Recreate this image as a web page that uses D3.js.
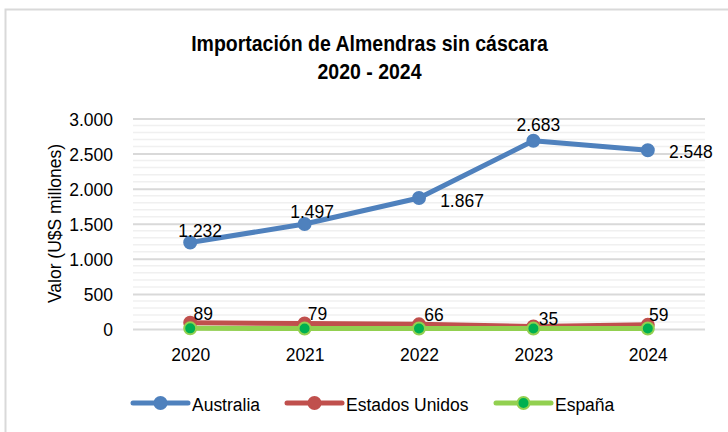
<!DOCTYPE html>
<html>
<head>
<meta charset="utf-8">
<script src="https://cdn.jsdelivr.net/npm/d3@7"></script>
<style>
  body { margin: 0; background: #fff; }
  svg { display: block; font-family: "Liberation Sans", Arial, sans-serif; }
  .tick-label { font-size: 17.5px; fill: #000; }
</style>
</head>
<body>
<div id="chart"></div>
<script>
// data
const years = ['2020', '2021', '2022', '2023', '2024'];
const seriesNames = ['Australia', 'Estados Unidos', 'España'];
const australia = [1232, 1497, 1867, 2683, 2548];
const estadosUnidos = [89, 79, 66, 35, 59];
const espana = [9, 8, 8, 6, 7];
const yTicks = [0, 500, 1000, 1500, 2000, 2500, 3000];

const width = 728, height = 432;
const margin = {top: 118.5, right: 23, bottom: 103, left: 133};
const SY = 1.1; // the original text is drawn a little taller than wide

const loc = d3.formatLocale({decimal: ',', thousands: '.', grouping: [3], currency: ['$', '']});
const fmt = loc.format(',d');

// stretch text vertically, keeping its baseline where it was
function stretch(sel) {
    sel.each(function() {
        const t = d3.select(this);
        const yy = +t.attr('y') || 0;
        const tr = t.attr('transform') || '';
        t.attr('y', yy / SY).attr('transform', `${tr} scale(1,${SY})`);
    });
}

const svg = d3.select('#chart').append('svg')
    .attr('width', width)
    .attr('height', height);

// outer border (right / bottom edges fall outside the picture)
svg.append('rect')
    .attr('x', 5.5).attr('y', 9.5)
    .attr('width', 760).attr('height', 460)
    .attr('fill', 'none')
    .attr('stroke', '#d9d9d9')
    .attr('stroke-width', 2);

const x = d3.scalePoint().domain(years).range([margin.left, width - margin.right]).padding(0.5);
const y = d3.scaleLinear().domain([0, 3000]).range([height - margin.bottom, margin.top]);

// minor gridlines every 100
const minor = d3.range(100, 3000, 100).filter(v => v % 500 !== 0);
svg.append('g').selectAll('line').data(minor).join('line')
    .attr('x1', margin.left).attr('x2', width - margin.right)
    .attr('y1', d => y(d)).attr('y2', d => y(d))
    .attr('stroke', '#f0f0f0').attr('stroke-width', 1.5);

// y axis with major gridlines
const yAxis = d3.axisLeft(y).tickValues(yTicks).tickFormat(fmt)
    .tickSize(-(width - margin.left - margin.right)).tickPadding(20);
svg.append('g')
    .attr('transform', `translate(${margin.left},0)`)
    .call(yAxis)
    .call(g => g.select('.domain').remove())
    .call(g => g.selectAll('.tick line').attr('stroke', '#d9d9d9').attr('stroke-width', 2))
    .call(g => g.selectAll('.tick text').attr('class', 'tick-label').attr('font-family', null).attr('font-size', null).attr('dy', '0.36em').call(stretch));

// x axis labels
const xAxis = d3.axisBottom(x).tickSize(0).tickPadding(17);
svg.append('g')
    .attr('transform', `translate(0,${y(0)})`)
    .call(xAxis)
    .call(g => g.select('.domain').remove())
    .call(g => g.selectAll('.tick text').attr('class', 'tick-label').attr('font-family', null).attr('font-size', null)
        .attr('dy', null).attr('y', 32).call(stretch));

// title
svg.append('text').attr('x', 369.5).attr('y', 51.5)
    .attr('text-anchor', 'middle').attr('font-weight', 'bold').attr('font-size', '19.5px')
    .text('Importación de Almendras sin cáscara').call(stretch);
svg.append('text').attr('x', 369.5).attr('y', 79)
    .attr('text-anchor', 'middle').attr('font-weight', 'bold').attr('font-size', '19.5px')
    .text('2020 - 2024').call(stretch);

// y axis title
svg.append('text')
    .attr('transform', 'translate(61,223.5) rotate(-90)')
    .attr('text-anchor', 'middle')
    .attr('class', 'tick-label')
    .text('Valor (U$S millones)').call(stretch);

const series = [
    {name: seriesNames[0], values: australia, color: '#4f81bd', fill: '#4f81bd', edge: '#4f81bd',
     labels: true, offsets: [[10, -5.5], [7.5, -6], [43, 9], [5, -9.5], [43, 8]]},
    {name: seriesNames[1], values: estadosUnidos, color: '#c0504d', fill: '#c0504d', edge: '#c0504d',
     labels: true, offsets: [[13, -2.5], [13, -3.5], [15, -3.5], [15, -2], [11, -4]]},
    {name: seriesNames[2], values: espana, color: '#92d050', fill: '#00b050', edge: '#92d050',
     labels: false}
];

const line = d3.line().x((d, i) => x(years[i])).y(d => y(d));

series.forEach(s => {
    const g = svg.append('g');
    g.append('path')
        .datum(s.values)
        .attr('d', line)
        .attr('fill', 'none')
        .attr('stroke', s.color)
        .attr('stroke-width', 5)
        .attr('stroke-linejoin', 'round')
        .attr('stroke-linecap', 'round');
    g.selectAll('circle').data(s.values).join('circle')
        .attr('cx', (d, i) => x(years[i]))
        .attr('cy', d => y(d))
        .attr('r', 6)
        .attr('fill', s.fill)
        .attr('stroke', s.edge)
        .attr('stroke-width', 2);
    if (s.labels) {
        g.selectAll('text').data(s.values).join('text')
            .attr('class', 'tick-label')
            .attr('text-anchor', 'middle')
            .attr('x', (d, i) => x(years[i]) + s.offsets[i][0])
            .attr('y', (d, i) => y(d) + s.offsets[i][1])
            .text(d => fmt(d))
            .call(stretch);
    }
});

// legend
const legendPos = [133, 287, 496];
const legend = svg.append('g').selectAll('g').data(series).join('g')
    .attr('transform', (d, i) => `translate(${legendPos[i]},403)`);
legend.append('line')
    .attr('x1', 0).attr('x2', 55)
    .attr('stroke', d => d.color).attr('stroke-width', 5).attr('stroke-linecap', 'round');
legend.append('circle')
    .attr('cx', 27.5).attr('r', 6)
    .attr('fill', d => d.fill).attr('stroke', d => d.edge).attr('stroke-width', 2);
legend.append('text')
    .attr('class', 'tick-label')
    .attr('x', 59).attr('y', 7.5)
    .text(d => d.name)
    .call(stretch);
</script>
</body>
</html>
